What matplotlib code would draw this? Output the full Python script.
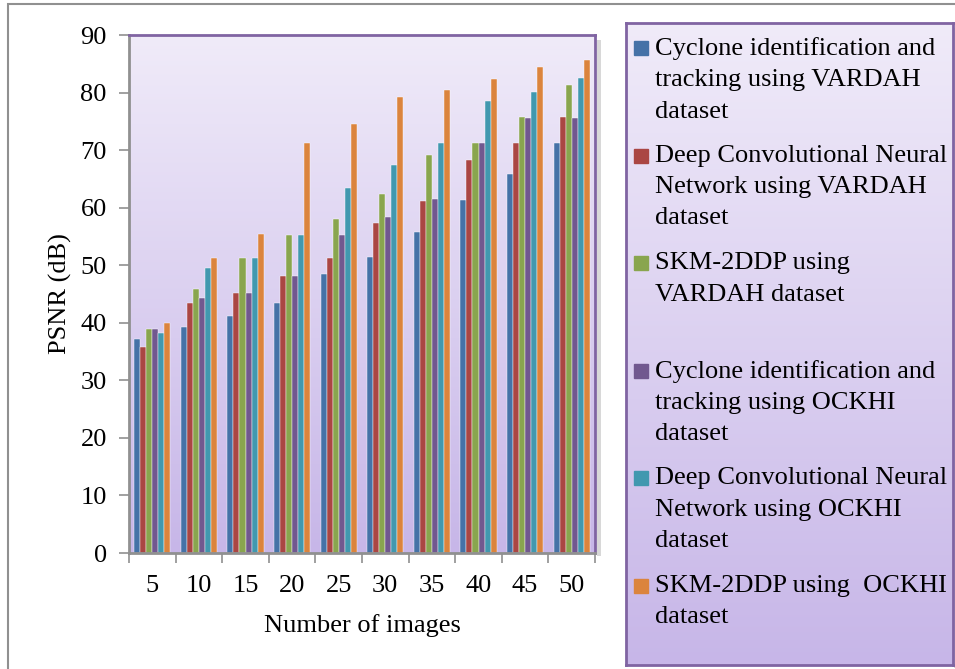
import numpy as np
import matplotlib
matplotlib.use("Agg")
from matplotlib import pyplot as plt
from matplotlib.patches import Rectangle

# data
images = [5, 10, 15, 20, 25, 30, 35, 40, 45, 50]
names = ["Cyclone identification and\ntracking using VARDAH\ndataset",
         "Deep Convolutional Neural\nNetwork using VARDAH\ndataset",
         "SKM-2DDP using\nVARDAH dataset",
         "Cyclone identification and\ntracking using OCKHI\ndataset",
         "Deep Convolutional Neural\nNetwork using OCKHI\ndataset",
         "SKM-2DDP using  OCKHI\ndataset"]
cyclone_vardah = [37.2, 39.2, 41.2, 43.5, 48.4, 51.5, 55.8, 61.3, 65.8, 71.3]
dcnn_vardah = [35.8, 43.5, 45.2, 48.1, 51.3, 57.3, 61.2, 68.2, 71.3, 75.8]
skm_vardah = [39.0, 45.8, 51.3, 55.2, 58.0, 62.3, 69.1, 71.3, 75.8, 81.3]
cyclone_ockhi = [39.0, 44.3, 45.2, 48.1, 55.2, 58.3, 61.5, 71.3, 75.5, 75.5]
dcnn_ockhi = [38.2, 49.5, 51.2, 55.3, 63.4, 67.5, 71.2, 78.5, 80.1, 82.5]
skm_ockhi = [40.0, 51.3, 55.5, 71.3, 74.5, 79.3, 80.5, 82.3, 84.5, 85.6]
series = [cyclone_vardah, dcnn_vardah, skm_vardah, cyclone_ockhi, dcnn_ockhi, skm_ockhi]
colors = ['#4572A7', '#AA4643', '#89A54E', '#71588F', '#4198AF', '#DB843D']

plt.rcParams['font.family'] = ['Liberation Serif', 'DejaVu Serif']
FS = 19
FW, FH = 955, 669

fig = plt.figure(figsize=(9.55, 6.69), dpi=100)
fig.patch.set_facecolor('white')

# outer gray frame (only left/top visible in the original)
fig.add_artist(Rectangle((8 / FW, -0.05), 1.2, 1 - 4 / FH + 0.05, transform=fig.transFigure,
                         fill=False, edgecolor='#909090', lw=1.5))

# soft shadows behind plot area and legend box
fig.add_artist(Rectangle((597 / FW, 1 - 556 / FH), 4 / FW, (556 - 40) / FH, transform=fig.transFigure,
                         color='#d8d8d8', lw=0, zorder=0))
fig.add_artist(Rectangle((954 / FW, 1 - 668 / FH), 4 / FW, (668 - 28) / FH, transform=fig.transFigure,
                         color='#d8d8d8', lw=0, zorder=0))

# purple gradient used for plot area and legend box
grad = np.linspace(0, 1, 256).reshape(-1, 1)
top_c = np.array([240, 235, 249]) / 255
bot_c = np.array([199, 182, 232]) / 255
grad_img = top_c * (1 - grad[..., None]) + bot_c * grad[..., None]

ax = fig.add_axes([129 / FW, 1 - 553 / FH, (595 - 129) / FW, (553 - 35) / FH])
ax.imshow(grad_img, extent=[0, 1, 0, 1], transform=ax.transAxes, aspect='auto', zorder=0)

x = np.arange(len(images))
w = 0.13
for i, vals in enumerate(series):
    ax.bar(x + (i - 2.5) * w, vals, w, color=colors[i], edgecolor='#ffffff', lw=0.3, zorder=2)

ax.set_xlim(-0.5, len(images) - 0.5)
ax.set_ylim(0, 90)
ax.set_yticks(np.arange(0, 91, 10))
ax.set_xticks(x)
ax.set_xticklabels([str(v) for v in images])
ax.set_xticks(np.arange(-0.5, len(images)), minor=True)
ax.tick_params(axis='x', which='major', length=0, pad=16, labelsize=FS)
ax.tick_params(axis='x', which='minor', length=7, color='#909090', width=1.2)
ax.tick_params(axis='y', length=7, color='#909090', width=1.2, labelsize=FS, pad=9)
for s in ['top', 'right']:
    ax.spines[s].set_color('#8064A2')
    ax.spines[s].set_linewidth(2)
for s in ['left', 'bottom']:
    ax.spines[s].set_color('#909090')
    ax.spines[s].set_linewidth(2)
ax.set_xlabel('Number of images', fontsize=FS, labelpad=12)
ax.set_ylabel('PSNR (dB)', fontsize=FS, labelpad=6)

# legend box
LX0, LX1, LY0, LY1 = 626, 953, 23, 665
lax = fig.add_axes([LX0 / FW, 1 - LY1 / FH, (LX1 - LX0) / FW, (LY1 - LY0) / FH])
lax.imshow(grad_img, extent=[0, 1, 0, 1], transform=lax.transAxes, aspect='auto', zorder=0)
lax.set_xlim(0, 1)
lax.set_ylim(0, 1)
lax.set_xticks([])
lax.set_yticks([])
for s in lax.spines.values():
    s.set_color('#8064A2')
    s.set_linewidth(2)
W = LX1 - LX0
H = LY1 - LY0
for i, name in enumerate(names):
    yc = 48 + i * 107.6 - LY0        # centre of first text line, px from box top
    lax.add_patch(Rectangle((8 / W, 1 - (yc + 7) / H), 14 / W, 14 / H,
                            color=colors[i], transform=lax.transAxes, zorder=2))
    lax.text(29 / W, 1 - (yc - 11) / H, name, fontsize=FS, va='top', ha='left',
             linespacing=1.55, transform=lax.transAxes)

plt.savefig('out.png', dpi=100)
plt.close('all')
